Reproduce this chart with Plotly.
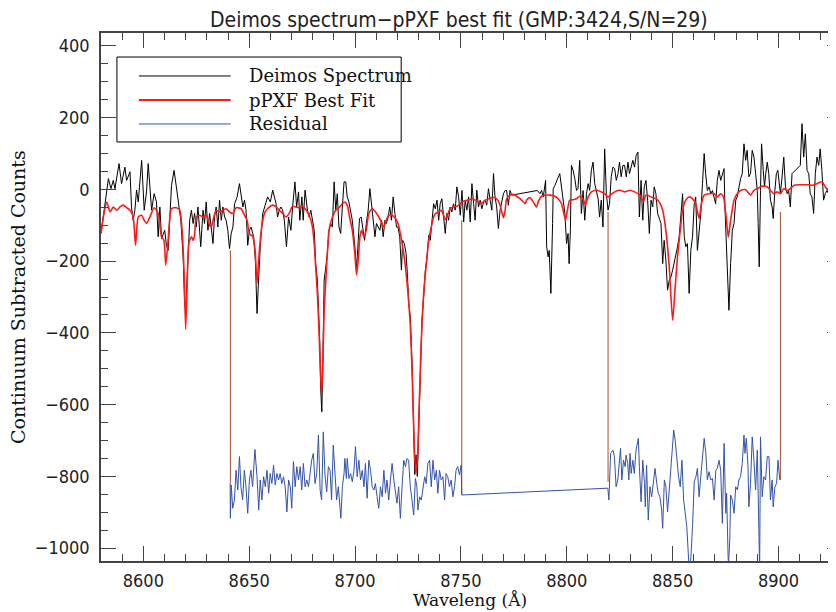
import plotly.graph_objects as go

# ---------------- data ----------------
spec_wave = [8580.0,8581.1,8583.5,8584.7,8585.8,8586.6,8588.5,8589.7,8591.3,8592.1,8593.7,8594.4,8595.2,8596.0,8596.8,8597.6,8599.2,8600.4,8601.5,8602.3,8603.9,8605.1,8606.2,8607.0,8607.8,8608.6,8610.1,8610.9,8611.7,8613.3,8614.5,8615.6,8616.4,8617.7,8618.8,8619.5,8620.0,8621.1,8621.9,8622.7,8623.5,8624.2,8625.0,8625.8,8627.1,8628.2,8628.9,8629.7,8630.5,8631.3,8632.1,8632.9,8633.6,8634.4,8635.2,8636.0,8636.8,8637.6,8638.4,8639.1,8639.9,8640.7,8641.5,8642.3,8643.1,8644.3,8645.4,8646.2,8647.0,8647.8,8648.5,8649.3,8650.1,8650.9,8652.1,8652.9,8653.7,8654.5,8655.3,8656.4,8658.0,8658.7,8660.0,8661.1,8661.9,8662.7,8663.4,8664.2,8665.0,8665.8,8666.6,
 8667.6,8668.6,8669.7,8670.5,8671.6,8672.4,8673.3,8673.9,8674.9,8675.5,8676.4,8677.5,8678.3,8679.1,8679.9,8680.7,8681.4,8682.2,8682.7,8683.3,8683.8,8684.3,8684.8,8685.4,8686.2,8686.9,8687.7,8688.5,8689.3,8690.1,8690.9,8691.6,8692.4,8693.2,8694.0,8694.8,8695.6,8696.3,8697.1,8697.9,8698.7,8699.9,8700.7,8701.5,8702.1,8702.9,8703.7,8704.5,8705.3,8706.2,8707.0,8707.8,8708.6,8709.4,8710.1,8710.9,8711.7,8712.5,8713.3,8714.1,8714.8,8715.6,8716.4,8717.2,8718.0,8718.8,8719.6,8720.3,8721.1,8721.9,8722.5,8723.3,8724.1,8724.7,8725.4,8726.1,8726.9,8727.6,8728.2,8728.8,8729.4,8730.0,8730.8,8731.6,8732.4,8733.2,8734.0,8734.8,8735.5,8736.3,8737.1,8737.9,8738.7,8739.5,8740.2,8741.0,8741.8,8742.6,8743.4,8744.2,8744.9,8745.7,8746.5,8747.3,8748.1,8748.9,
 8749.7,8750.5,8751.3,8752.0,8752.8,8753.6,8754.4,8755.2,8756.0,8756.7,8757.5,8758.3,8759.1,8759.9,8760.7,8761.4,8762.2,8763.0,8763.8,8764.6,8765.4,8766.1,8766.9,8767.7,8768.5,8769.3,8770.1,8770.9,8771.6,8772.4,8773.2,8774.0,8786.1,8787.3,8788.1,8788.9,8790.0,8790.5,8791.2,8791.7,8792.5,8793.3,8793.6,8794.4,8795.2,8795.9,8796.7,8797.5,8798.3,8799.1,8799.9,8800.6,8801.1,8801.7,8802.2,8803.0,8803.8,8804.6,8805.3,8806.1,8806.9,8807.7,8808.5,8809.3,8810.1,8810.8,8811.6,8812.4,8813.2,8814.0,8814.8,8815.5,8816.3,8817.1,8817.9,8818.7,8819.5,8820.2,8821.0,8821.8,8822.6,8823.4,8824.2,8824.9,8825.7,8826.5,8827.3,8828.1,8828.9,8829.6,8830.4,8831.2,8832.0,8832.8,8833.6,
 8834.3,8835.1,8835.9,8836.6,8837.4,8838.2,8839.0,8839.8,8840.6,8841.3,8842.1,8842.9,8843.7,8844.5,8845.3,8846.0,8846.8,8847.6,8848.4,8849.2,8850.0,8850.7,8851.5,8852.3,8853.1,8853.9,8854.7,8855.5,8856.2,8857.0,8857.8,8858.6,8859.4,8860.2,8860.9,8861.7,8862.5,8863.3,8864.1,8864.9,8865.6,8866.4,8867.2,8868.0,8868.8,8869.6,8870.3,8871.1,8871.9,8872.7,8873.5,8874.3,8874.7,8875.5,8876.1,8876.6,8877.4,8878.2,8879.0,8879.8,8880.5,8881.3,8882.1,8882.9,8883.7,8884.5,8885.2,8886.0,8886.8,8887.6,8888.4,8889.2,8890.0,8890.4,8890.9,8891.5,8892.0,8892.8,8893.4,8894.0,8894.7,8895.4,8896.2,8897.0,8897.5,8898.3,8899.0,8899.7,8900.3,8900.9,8901.7,8902.5,8903.3,8904.1,8904.8,8905.6,8906.4,8907.2,8910.3,8911.1,8911.9,8912.7,8913.5,8914.3,8915.0,8915.8,8916.6,8917.4,8918.2,8919.0,8919.7,8920.5,8921.3,8922.1,8922.9,8923.7,8924.4,8925.2,8925.7,8927.0]
spec_counts = [-123,-77,30,2,25,2,72,16,62,25,49,-49,-86,-58,-2,-35,81,-58,-7,72,-58,-12,-35,-132,-49,-137,-114,-156,-170,11,53,7,-30,-86,-188,-318,-337,-170,-86,-58,-95,-67,-105,-49,-160,-58,-95,-35,-114,-67,-114,-151,-77,-49,-105,-30,-86,-49,-77,-86,-114,-165,-123,-105,-40,-21,16,-21,-49,-30,-58,-156,-114,-105,-132,-197,-346,-244,-151,-67,-35,-21,-35,-2,-21,-40,-77,-58,-49,-58,-86,
 -160,-77,-114,-49,21,-49,-7,-86,-21,-86,-2,-58,-77,-58,-86,-114,-207,-253,-328,-420,-560,-620,-480,-253,-216,-179,-114,-95,-105,21,-58,-12,-105,-123,-49,21,21,-21,-35,-58,-86,-160,-225,-142,-81,-77,-105,-142,-95,-58,2,-40,-77,-132,-95,-105,-114,-86,-132,-86,-95,-77,-49,-86,-21,-67,-105,-105,-132,-225,-142,-151,-179,-235,-318,-355,-480,-650,-795,-740,-800,-680,-500,-365,-300,-225,-188,-128,-142,-86,-40,-54,-30,-86,-40,-26,-86,-123,-67,-86,-49,-63,-40,-58,7,-21,
 -72,-3,-91,-30,-58,-21,-91,16,-40,-86,-2,-49,-30,-54,-35,-30,-44,2,-30,-58,44,-21,-49,-109,-58,-30,-12,-3,-3,-44,-3,-16,-3,-12,-3,-21,25,-160,-188,-170,-290,-95,2,11,25,33,44,7,-21,-67,-151,-123,-207,-114,67,53,30,-3,2,81,-67,-3,-86,-12,16,-3,53,76,16,-3,-26,-77,-30,-105,113,-12,-58,-40,35,62,58,25,44,76,35,67,67,35,76,44,67,81,62,95,104,
 -77,25,-86,7,25,-30,-123,-30,-49,7,-12,-67,-81,-95,-207,-142,-197,-281,-253,-244,-225,-207,-179,-160,-132,-77,-12,-132,-160,-151,-290,-170,-132,-40,-21,-170,-123,-67,16,100,44,-3,7,-12,-3,-21,-40,25,53,25,44,58,-49,-179,-235,-337,-207,-114,-95,-30,-21,7,30,44,127,81,109,35,44,109,90,44,-3,-95,-216,-3,127,53,7,44,76,44,-30,-49,-81,-3,44,53,25,-12,35,90,7,-12,-3,-49,44,49,67,183,90,155,53,44,-12,-21,-67,44,90,67,113,53,-30,-12,-3,-12,-67,-170,-188,-200]

fit_wave = [8580.0,8581.1,8582.7,8584.3,8585.8,8587.4,8589.0,8590.5,8592.1,8593.7,8595.2,8596.3,8597.6,8599.2,8600.4,8601.5,8603.1,8605.1,8607.0,8608.6,8609.7,8610.6,8611.7,8613.3,8615.6,8617.2,8618.3,8619.2,8620.0,8620.8,8621.5,8622.7,8623.5,8624.2,8625.0,8626.6,8628.2,8629.7,8631.3,8632.1,8633.3,8634.4,8636.0,8637.6,8639.1,8640.7,8642.3,8643.8,8646.2,8647.8,8649.0,8650.1,8651.7,8652.8,8653.7,8654.8,8655.9,8657.2,8658.7,8661.1,8662.7,8664.2,8665.8,8667.3,8668.9,8670.5,8672.0,8673.6,8675.2,8676.7,8678.3,8679.9,8680.8,8681.4,8682.2,8683.0,8683.6,8684.2,8684.8,8685.4,8686.2,8686.9,8687.7,8689.3,8690.9,8692.4,8694.0,8695.2,8696.3,8697.4,8698.7,8699.9,8700.7,8701.5,8702.3,8703.1,8704.2,8705.3,8706.5,8708.1,8709.7,8711.2,8712.8,8713.6,8714.7,8715.9,8717.5,8719.1,8720.3,8721.4,8722.5,8723.8,8725.0,8726.1,8727.0,8727.8,8728.6,8729.4,8730.2,8731.0,8731.6,8732.4,8733.2,8734.0,8734.8,8736.0,8737.1,8738.2,8739.5,8740.7,8741.8,8742.6,8743.4,8744.2,8744.9,8746.5,8748.1,8749.7,8750.5,8752.0,8753.6,8755.2,8756.7,8758.3,8759.9,8761.4,8763.0,8764.6,8766.1,8767.4,8768.5,8769.3,8770.1,8770.9,8771.6,8773.2,8774.8,8776.3,8777.9,8779.5,8780.3,8781.0,8782.6,8784.2,8785.7,8786.5,8788.1,8789.7,8792.0,8794.4,8795.9,8797.5,8798.8,8799.4,8800.3,8801.4,8803.0,8804.6,8806.1,8807.7,8808.8,8810.1,8811.6,8813.2,8814.8,8816.3,8817.9,8819.5,8821.0,8822.6,8824.2,8825.7,8827.3,8828.9,8830.4,8832.0,8833.6,8835.1,8836.2,8837.4,8839.8,8842.1,8843.7,8845.3,8846.8,8848.4,8850.0,8851.1,8852.3,8853.6,8854.7,8856.2,8857.8,8859.4,8860.9,8862.5,8863.6,8864.9,8867.2,8869.6,8871.1,8872.7,8874.0,8875.1,8876.3,8877.4,8879.0,8880.5,8882.1,8884.5,8886.8,8888.4,8890.0,8892.3,8894.7,8896.2,8897.8,8899.4,8900.9,8902.5,8904.1,8905.6,8907.2,8909.5,8911.9,8914.3,8915.8,8918.2,8920.5,8922.1,8923.2,8924.4,8925.7,8927.5]
fit_counts = [-123,-77,-35,-63,-49,-58,-49,-44,-51,-58,-77,-156,-77,-72,-86,-95,-77,-51,-67,-132,-142,-211,-142,-54,-51,-58,-114,-225,-390,-240,-150,-132,-142,-128,-77,-72,-77,-72,-100,-105,-77,-58,-63,-58,-54,-63,-67,-51,-54,-72,-86,-123,-132,-170,-262,-170,-105,-67,-54,-44,-49,-58,-67,-77,-67,-47,-49,-51,-47,-56,-72,-105,-160,-216,-290,-400,-500,-570,-480,-340,-253,-179,-114,-77,-58,-51,-40,-35,-44,-77,-114,-179,-239,-197,-132,-114,-132,-114,-67,-54,-63,-77,-95,-105,-86,-72,-72,-81,-95,-123,-160,-216,-290,-380,-520,-680,-790,-760,-620,-470,-380,-290,-235,-188,-142,-105,-77,-66,-63,-58,-72,-84,-77,-63,-54,-49,-47,-40,-35,-32,-29,-26,-30,-35,-38,-30,-26,-23,-23,-30,-44,-63,-79,-58,-26,-16,-14,-19,-26,-35,-40,-30,-23,-35,-49,-35,-19,-16,-16,-19,-26,-40,-72,-86,-58,-30,-29,-26,-19,-26,-44,-21,-7,-3,-3,-7,-12,-21,-14,-7,-3,-3,-7,-4,-3,-7,-12,-21,-35,-16,-21,-26,-35,-58,-114,-216,-365,-281,-188,-114,-58,-30,-21,-26,-40,-81,-40,-16,-12,-12,-21,-12,-21,-67,-133,-86,-30,-12,-3,-1,-16,-3,2,9,7,-3,-12,-7,-12,2,-3,2,11,13,13,13,11,16,21,7,-1,11,21,25]

resid_wave = [8641.0,8641.1,8641.5,8642.2,8643.0,8643.8,8644.6,8645.4,8646.1,8646.9,8647.7,8648.5,8649.3,8650.1,8650.8,8651.6,8652.7,8653.7,8654.5,8655.2,8656.0,8656.8,8657.6,8658.4,8659.2,8659.9,8660.7,8661.5,8662.3,8663.1,8663.9,8664.6,8665.4,8666.2,8667.0,8667.8,8668.6,8669.4,8670.1,8670.9,8671.7,8672.5,8673.3,8674.1,8674.8,8675.6,8676.4,8677.2,8678.0,8678.8,8679.5,8680.3,8681.1,8681.9,8682.7,8683.5,8684.2,8685.0,8685.8,8686.6,8687.4,8688.2,8688.9,8689.7,8690.5,8691.3,8692.1,8692.9,8693.3,8694.0,8694.8,8695.2,8695.9,8696.3,8697.1,8697.9,8698.7,8699.5,8700.2,8701.0,8701.8,8702.6,8703.4,8704.2,8704.9,8705.7,8706.5,8707.3,8708.1,8708.9,8709.6,8710.4,8711.2,8712.0,8712.8,8713.6,8714.4,8715.1,8715.9,8716.7,8717.5,8718.3,8719.1,8719.8,8720.6,8721.4,8722.2,8723.0,8723.8,8724.5,8725.3,8726.1,8726.9,8727.7,8728.5,8729.2,8729.7,8730.5,8731.3,8732.1,8732.9,8733.6,8734.4,8735.2,8736.0,8736.8,8737.6,8738.4,8739.1,8739.9,8740.7,8741.5,8742.3,8743.0,8743.8,8744.6,8745.4,8746.2,8747.0,8747.7,8748.5,8749.3,8750.1,8750.4,
 8819.4,8819.9,8820.7,8821.8,8822.5,8823.3,8824.1,8824.9,8825.4,8826.0,8826.8,8827.6,8828.0,8828.8,8829.3,8829.9,8830.4,8831.2,8831.9,8832.7,8833.8,8834.3,8835.1,8835.9,8836.7,8837.1,8837.7,8838.5,8839.3,8840.1,8840.9,8841.7,8842.5,8843.2,8844.0,8844.8,8845.3,8846.1,8846.8,8847.6,8848.4,8849.2,8850.0,8850.5,8851.2,8852.0,8852.8,8853.6,8854.4,8855.2,8855.9,8856.7,8857.3,8857.8,8858.4,8858.9,8859.4,8860.2,8861.0,8861.7,8862.5,8863.3,8864.1,8864.9,8865.7,8866.4,8867.2,8868.0,8868.8,8869.6,8870.4,8871.1,8871.9,8872.7,8873.5,8874.3,8875.1,8875.5,8876.2,8876.4,8877.0,8877.4,8878.2,8879.0,8879.8,8880.6,8881.3,8882.1,8882.9,8883.7,8884.2,8884.8,8885.6,8886.0,8886.8,8887.6,8888.4,8889.2,8890.0,8890.7,8891.1,8891.5,8892.3,8893.1,8893.9,8894.7,8895.5,8896.2,8897.0,8897.5,8898.3,8899.1,8899.8,8900.6]
resid_counts = [-820,-917,-824,-889,-866,-783,-838,-745,-829,-866,-783,-829,-903,-810,-783,-829,-725,-801,-894,-810,-866,-801,-829,-783,-847,-792,-820,-769,-824,-792,-810,-792,-820,-801,-829,-899,-810,-829,-889,-759,-829,-773,-810,-773,-838,-764,-829,-810,-829,-783,-755,-736,-820,-792,-685,-838,-866,-676,-796,-843,-773,-783,-866,-713,-783,-866,-829,-885,-917,-829,-792,-750,-806,-750,-806,-792,-815,-783,-717,-801,-755,-810,-783,-829,-764,-861,-755,-783,-829,-838,-820,-857,-889,-829,-857,-783,-847,-810,-866,-810,-764,-810,-838,-875,-829,-917,-829,-755,-773,-750,-755,-829,-866,-908,-806,-829,-894,-857,-866,-829,-801,-820,-764,-755,-829,-755,-810,-783,-847,-783,-810,-801,-866,-792,-801,-829,-810,-857,-829,-783,-773,-796,-769,-852,
 -833,-866,-736,-727,-745,-829,-810,-755,-722,-810,-755,-773,-741,-764,-810,-736,-792,-755,-792,-727,-694,-773,-871,-755,-820,-885,-769,-922,-829,-857,-810,-778,-820,-847,-857,-894,-945,-810,-829,-899,-838,-773,-708,-671,-699,-755,-801,-829,-755,-866,-903,-940,-1005,-1060,-1050,-1005,-940,-815,-801,-778,-857,-801,-736,-694,-736,-810,-787,-810,-806,-866,-783,-778,-755,-783,-931,-708,-903,-847,-1024,-1045,-977,-852,-866,-903,-829,-838,-810,-801,-764,-685,-736,-694,-773,-885,-820,-690,-755,-838,-727,-1060,-1060,-690,-857,-801,-810,-745,-745,-866,-810,-885,-829,-820,-755,-810]

edge_wave = [8641.1, 8750.4, 8819.5, 8900.9]
edge_top = [-170, -86, -63, -63]
edge_bottom = [-820, -852, -815, -810]

legend_labels = ["Deimos Spectrum", "pPXF Best Fit", "Residual"]
title_text = "Deimos spectrum\u2212pPXF best fit (GMP:3424,S/N=29)"
x_title = "Waveleng (\u00c5)"
y_title = "Continuum Subtracted Counts"
x_range = [8580, 8930]
y_range = [-1036, 436]

# ---------------- styling ----------------
C_SPEC = "#000000"
C_FIT = "#ff1a1a"
C_RES = "#3453a8"
C_EDGE = "#a0522d"
AX = "#444444"
TICKFONT = dict(family="Liberation Sans Narrow, DejaVu Sans Condensed, Arial Narrow, sans-serif", size=18, color="#222222")
SERIF = "DejaVu Serif, Liberation Serif, serif"

fig = go.Figure()

# boundary markers (vertical lines joining spectrum and residual)
ex, ey = [], []
for w, t, b in zip(edge_wave, edge_top, edge_bottom):
    ex += [w, w, None]
    ey += [t, b, None]
fig.add_trace(go.Scatter(x=ex, y=ey, mode="lines", line=dict(color=C_EDGE, width=1), showlegend=False, hoverinfo="skip"))

fig.add_trace(go.Scatter(x=spec_wave, y=spec_counts, mode="lines", name=legend_labels[0],
                         line=dict(color=C_SPEC, width=1), showlegend=False))
fig.add_trace(go.Scatter(x=fit_wave, y=fit_counts, mode="lines", name=legend_labels[1],
                         line=dict(color=C_FIT, width=1.6, shape="spline", smoothing=0.6), showlegend=False))
fig.add_trace(go.Scatter(x=resid_wave, y=resid_counts, mode="lines", name=legend_labels[2],
                         line=dict(color=C_RES, width=1), showlegend=False))

# page body has an 8px margin: plot area lands at x 101..844, y 33..561
fig.update_layout(
    width=836, height=612,
    margin=dict(l=93, r=0, t=25, b=59),
    paper_bgcolor="white", plot_bgcolor="white",
    showlegend=False,
    xaxis=dict(range=x_range, showgrid=False, zeroline=False,
               showline=True, linecolor=AX, linewidth=1.5, mirror="ticks",
               ticks="inside", ticklen=15, tickwidth=1, tickcolor=AX,
               tick0=8600, dtick=50, tickfont=TICKFONT, ticklabelstandoff=3,
               minor=dict(ticks="inside", ticklen=7, dtick=10, tick0=8600, tickcolor=AX, showgrid=False)),
    yaxis=dict(range=y_range, showgrid=False, zeroline=False,
               showline=True, linecolor=AX, linewidth=1.5, mirror="ticks",
               ticks="inside", ticklen=15, tickwidth=1, tickcolor=AX,
               tick0=0, dtick=200, tickfont=TICKFONT, ticklabelstandoff=6,
               minor=dict(ticks="inside", ticklen=7, dtick=50, tick0=0, tickcolor=AX, showgrid=False)),
)

# legend (box, samples, labels)
lx0, lx1, ly0, ly1 = 0.0215, 0.4051, 0.7936, 0.9545
fig.add_shape(type="rect", xref="paper", yref="paper", x0=lx0, x1=lx1, y0=ly0, y1=ly1,
              line=dict(color="#000000", width=1), fillcolor="white", layer="above")
rows = [0.9186, 0.8731, 0.8277]
cols = [(C_SPEC, 1), (C_FIT, 2), (C_RES, 1)]
for yy, (c, w), lab in zip(rows, cols, legend_labels):
    fig.add_shape(type="line", xref="paper", yref="paper", x0=0.0511, x1=0.175, y0=yy, y1=yy,
                  line=dict(color=c, width=w), layer="above")
    fig.add_annotation(xref="paper", yref="paper", x=0.1965, y=yy, text=lab, showarrow=False,
                       xanchor="left", yanchor="middle", font=dict(family=SERIF, size=18, color="#111111"))

# titles
fig.add_annotation(xref="paper", yref="paper", x=0.483, y=1, yshift=13, text=title_text, showarrow=False,
                   xanchor="center", yanchor="middle", borderpad=0,
                   font=dict(family="DejaVu Sans Condensed, Liberation Sans Narrow, sans-serif", size=21, color="#222222"))
fig.add_annotation(xref="paper", yref="paper", x=0.498, y=0, yshift=-39, text=x_title, showarrow=False,
                   xanchor="center", yanchor="middle", font=dict(family=SERIF, size=17, color="#111111"))
fig.add_annotation(xref="paper", yref="paper", x=0, xshift=-83, y=0.5, text=y_title, showarrow=False,
                   textangle=-90, xanchor="center", yanchor="middle", font=dict(family=SERIF, size=19, color="#111111"))

fig.write_html("out.html")
